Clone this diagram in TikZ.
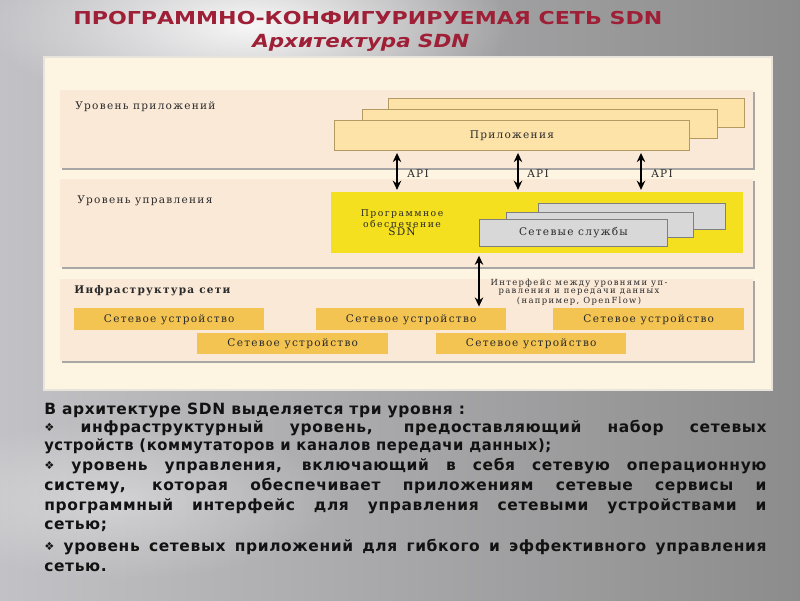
\documentclass[tikz,border=0pt]{standalone}
\usepackage{fontspec}
\usetikzlibrary{arrows.meta,fadings,shadows}
\newfontfamily\titlefont{DejaVu Sans}
\newfontfamily\bodyfont[LetterSpace=4]{DejaVu Sans}
\newfontfamily\diafont[LetterSpace=12]{DejaVu Serif}
\newfontfamily\diasmallfont[LetterSpace=16]{DejaVu Serif}
\definecolor{bgL}{HTML}{C2C2C6}
\definecolor{bgR}{HTML}{8C8C8C}
\definecolor{titlered}{HTML}{9E1F36}
\definecolor{cream}{HTML}{FDF5E1}
\definecolor{peach}{HTML}{FBE9D8}
\definecolor{appfill}{HTML}{FDE3A8}
\definecolor{appedge}{HTML}{B39A62}
\definecolor{ctrlyellow}{HTML}{F4E01E}
\definecolor{svcfill}{HTML}{D8D8D8}
\definecolor{svcedge}{HTML}{7F7F7F}
\definecolor{devfill}{HTML}{F4C452}
\definecolor{diatext}{HTML}{2A2A2A}
\definecolor{bodytext}{HTML}{121212}
\tikzfading[name=glow, inner color=transparent!0, outer color=transparent!100]
% box macro: name, x1, y1, x2, y2, style, text
\newcommand\bx[7]{\node[#6, anchor=north west, inner sep=0pt,
  minimum width={(#4-#2)*0.025cm}, minimum height={(#5-#3)*0.025cm}] (#1) at (#2,#3) {#7};}
\newcommand\diasize{\diafont\fontsize{7.5}{8}\selectfont}
\newcommand\diasmall{\diasmallfont\fontsize{6}{5.6}\selectfont}
\newcommand\sdnsize{\diasmallfont\fontsize{6.6}{5.8}\selectfont}
\newcommand\fullline[1]{\hbox to 18.05cm{#1}}
\newcommand\bul{{\fontsize{8}{8}\selectfont\raisebox{0.5pt}{❖}}}
\begin{document}
\begin{tikzpicture}[x=0.025cm,y=-0.025cm,
  panel/.style={fill=cream, draw={rgb,255:red,232;green,228;blue,220}, line width=1.2pt},
  layer/.style={fill=peach, drop shadow={shadow xshift=0.9pt, shadow yshift=-1.2pt, fill=gray!75, opacity=0.9}},
  appbox/.style={fill=appfill, draw=appedge, line width=0.6pt},
  ctrlbox/.style={fill=ctrlyellow},
  svcbox/.style={fill=svcfill, draw=svcedge, line width=0.6pt},
  devbox/.style={fill=devfill, font=\diasize, text=diatext},
  dialabel/.style={font=\diasize, text=diatext, inner sep=0pt},
  smalllabel/.style={font=\diasmall, text=diatext, inner sep=0pt, align=center},
  dbl/.style={{Stealth[length=6.5pt,width=6pt]}-{Stealth[length=6.5pt,width=6pt]}, line width=1.8pt, black},
  bodyline/.style={anchor=base west, inner sep=0pt, font=\bodyfont\bfseries\fontsize{11}{13}\selectfont, text=bodytext}
]
\useasboundingbox (0,0) rectangle (800,600);
% background
\shade[left color=bgL, right color=bgR] (0,0) rectangle (800,600);
\fill[white, path fading=glow, opacity=0.9] (250,25) ellipse [x radius=260, y radius=95];
\fill[white, path fading=glow, opacity=0.35] (120,500) ellipse [x radius=220, y radius=80];
% title
\node[anchor=base west, inner sep=0pt, text=titlered] (title) at (73,24)
  {\resizebox{14.725cm}{0.33cm}{\titlefont\bfseries ПРОГРАММНО-КОНФИГУРИРУЕМАЯ СЕТЬ SDN}};
\node[anchor=base west, inner sep=0pt, text=titlered] (subtitle) at (252,47)
  {\resizebox{5.425cm}{0.335cm}{\titlefont\bfseries\itshape Архитектура SDN}};
% diagram panel
\bx{diag}{43}{56}{771}{389}{panel}{}
% layers
\bx{layerA}{60}{90}{753}{168}{layer}{}
\bx{layerC}{60}{179}{753}{267}{layer}{}
\bx{layerI}{60}{279}{753}{361}{layer}{}
\node[dialabel, anchor=base west] (labA) at (75,109) {Уровень приложений};
\node[dialabel, anchor=base west] (labC) at (77,203) {Уровень управления};
\node[dialabel, anchor=base west, font=\diasize\bfseries] (labI) at (74,293) {Инфраструктура сети};
% application boxes
\bx{appB}{388}{98}{744}{127}{appbox}{}
\bx{appM}{362}{109}{717}{138}{appbox}{}
\bx{appF}{334}{120}{689}{150}{appbox, font=\diasize, text=diatext}{Приложения}
% control
\bx{ctrl}{331}{192}{743}{253}{ctrlbox}{}
\node[smalllabel, font=\sdnsize] (sdnsw) at (402,223) {Программное\\обеспечение\\{\diasize SDN}};
\bx{svcB}{538}{203}{725}{229}{svcbox}{}
\bx{svcM}{506}{212}{693}{237}{svcbox}{}
\bx{svcF}{479}{219}{667}{246}{svcbox, font=\diasize, text=diatext}{Сетевые службы}
% devices
\bx{dev1}{74}{308}{264}{330}{devbox}{Сетевое устройство}
\bx{dev2}{316}{308}{506}{330}{devbox}{Сетевое устройство}
\bx{dev3}{553}{308}{744}{330}{devbox}{Сетевое устройство}
\bx{dev4}{197}{333}{388}{354}{devbox}{Сетевое устройство}
\bx{dev5}{436}{333}{626}{354}{devbox}{Сетевое устройство}
% arrows
\coordinate (xa1) at (397,0);
\coordinate (xa2) at (518,0);
\coordinate (xa3) at (641,0);
\coordinate (xi) at (479,0);
\draw[dbl, shorten <=1.5pt, shorten >=1.5pt] (appF.south -| xa1) -- (ctrl.north -| xa1);
\draw[dbl, shorten <=1.5pt, shorten >=1.5pt] (appF.south -| xa2) -- (ctrl.north -| xa2);
\draw[dbl, shorten <=1.5pt, shorten >=1.5pt] (appF.south -| xa3) -- (ctrl.north -| xa3);
\draw[dbl, shorten <=1.5pt, shorten >=1pt] (ctrl.south -| xi) -- (dev2.north -| xi);
\node[dialabel] (api1) at (418,174) {API};
\node[dialabel] (api2) at (538,174) {API};
\node[dialabel] (api3) at (662,174) {API};
\node[smalllabel] (iface) at (579,292) {Интерфейс между уровнями уп-\\равления и передачи данных\\(например, OpenFlow)};
% body text
\node[bodyline] (t1) at (44,414) {В архитектуре SDN выделяется три уровня :};
\node[bodyline] (t2) at (44,432) {\fullline{\bul{} инфраструктурный уровень, предоставляющий набор сетевых}};
\node[bodyline] (t3) at (44,450) {\scalebox{0.955}[1]{устройств (коммутаторов и каналов передачи данных);}};
\node[bodyline] (t4) at (44,470) {\fullline{\bul{} уровень управления, включающий в себя сетевую операционную}};
\node[bodyline] (t5) at (44,490) {\fullline{систему, которая обеспечивает приложениям сетевые сервисы и}};
\node[bodyline] (t6) at (44,510) {\fullline{программный интерфейс для управления сетевыми устройствами и}};
\node[bodyline] (t7) at (44,529) {сетью;};
\node[bodyline] (t8) at (44,551) {\fullline{\bul{} уровень сетевых приложений для гибкого и эффективного управления}};
\node[bodyline] (t9) at (44,571) {сетью.};
\end{tikzpicture}
\end{document}
